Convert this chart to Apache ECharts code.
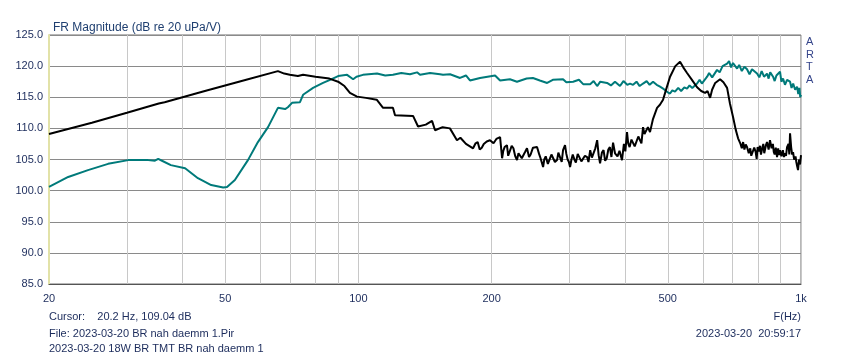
<!DOCTYPE html>
<html>
<head>
<meta charset="utf-8">
<script src="https://cdn.jsdelivr.net/npm/echarts@6/dist/echarts.min.js"></script>
<style>
html,body{margin:0;padding:0;background:#fff;}
#chart{width:850px;height:359px;}
</style>
</head>
<body>
<div id="chart"></div>
<script>
// ---- data ----
const xTickLabels = [20, 50, 100, 200, 500, 1000];
const xGridFreqs = [20, 30, 40, 50, 60, 70, 80, 90, 100, 200, 300, 400, 500, 600, 700, 800, 900, 1000];
const blackFreq = [20,25,30,35.4,36.5,45,55,65.8,68,70,73,75,80,86,90,93,95.7,99.3,104,110,113.7,119.7,121,132.9,136.4,142,146.7,149,155,161,167,170,175,181.6,184,186,188,190,192,195,198.3,202,205,209,211.2,212.5,214,216.6,218,220,222,224,226,228.2,230,232,234,236,238,240.4,243,245,248,250,253.3,256,258,261.4,263,265,268,270,273,275,278,281.1,283,285,288,290,293,295,297,299,300.8,303,305,308,310,313,316,319,322,325,328.7,331,334,337,340,343,346.3,349,351.6,355,358,361,364,367,370,373,376.2,380,385,389,394.1,396,398,401,404.5,407,410,414,417.4,421,425,429,432.8,436,439.7,443,447,451,455.9,463,472.9,480,487.9,497,506,520,533,542,552.8,567,582.4,595,607.2,615,623.2,629.7,640,656.4,668,680.8,691,702.4,712,720.9,730,735,740,745,750,755.2,762,768,772,779.2,784,790,794,798,803,808,812,815,819,822,826,830,834,838,845,851,858,864,868,872,877,882.8,888,892,896.7,903,910,915,920,925,930,937,941,944.6,950,955,959.5,965,972,976,979.7,984.7,990,995,1000];
const blackDb = [109.1,110.9,112.5,114.0,114.2,116.0,117.7,119.2,118.8,118.6,118.4,118.6,118.3,118.0,117.5,116.8,115.7,115.1,114.9,114.6,113.3,113.3,112.1,112.0,110.3,110.6,111.2,109.7,110.2,110.0,108.1,108.5,107.5,106.8,107.6,107.8,106.6,106.9,107.5,107.9,108.1,107.6,108.3,108.6,105.2,106.4,107.0,107.3,105.6,105.8,107.2,106.8,105.6,104.9,106.0,106.3,105.2,105.0,106.2,106.8,105.4,105.8,106.9,107.0,107.0,105.9,105.2,103.8,105.0,105.5,104.3,104.5,105.8,106.0,104.6,104.9,106.1,105.5,104.6,106.5,107.3,105.9,105.0,104.6,103.8,105.0,105.8,104.9,104.5,105.9,106.0,104.7,104.5,105.6,105.4,104.6,106.5,105.3,105.0,106.8,108.1,105.7,104.4,106.1,106.5,104.8,105.2,106.6,107.0,105.4,107.7,106.0,105.5,106.4,104.9,106.2,107.5,106.3,109.4,107.6,107.0,108.2,108.4,107.1,107.3,108.7,108.4,107.6,110.2,109.1,109.0,110.2,109.4,111.5,113.3,113.8,114.6,116.5,118.3,120.0,120.7,119.8,118.9,117.8,116.6,116.0,115.7,116.0,114.9,116.2,117.3,117.9,117.4,116.5,114.0,111.8,109.8,108.4,107.5,106.8,107.8,106.6,107.4,107.0,106.0,106.8,105.6,105.4,106.9,106.2,105.1,107.0,106.3,107.2,105.8,106.0,107.1,107.5,106.0,106.3,107.4,107.8,106.6,108.1,106.8,107.5,106.2,105.8,106.9,105.4,106.8,105.7,106.5,105.5,106.5,105.4,106.0,105.6,107.0,107.5,105.8,109.2,107.0,105.8,106.2,105.0,105.5,104.6,104.0,103.3,105.0,104.2,105.7];
const tealFreq = [20,22.1,24.5,27.2,30.2,33.5,34.7,35.3,36,37.7,40.6,43.4,46.5,49.5,50.5,52.6,56.3,59.3,62.5,65.8,68.3,69.3,70.8,73.8,75,79,83.2,86.3,90,94.3,97.3,99,102.4,110.2,115,119.7,125,130.8,135.7,137.8,145.2,152.9,155.3,161.1,169.7,175,178.7,188.3,203.6,209,220,228.2,240,248,257,267,275,290,295,305.6,315,322,333.9,340,346.3,352,364.6,372,380,390,397,405,410.9,417.4,425,432,439.7,448,455,463.2,472,480.3,490,500,506,512,519.3,528,536,545,552.8,560,568,582.4,590,597,613.6,620,630,646.2,655,665,680.8,688,695,702,717.2,725,735,745,755.2,765,775,795.6,805,815,825,838.1,845,852,864.8,872,880,896.7,903,910.8,920,930,944.6,952,960,970,979.7,986,992,996,1000];
const tealDb = [100.6,102.2,103.3,104.3,104.9,104.9,104.8,105.1,104.8,104.1,103.6,102.0,100.9,100.5,100.6,101.7,104.9,107.8,110.2,113.3,113.1,113.4,114.1,114.2,115.4,116.5,117.3,117.8,118.4,118.6,117.9,118.3,118.6,118.8,118.5,118.6,118.9,118.7,119.0,118.6,118.9,118.7,118.6,118.7,118.1,118.5,117.7,118.1,118.5,117.7,117.9,117.5,118.0,118.1,117.7,117.3,117.8,117.9,117.4,117.5,117.8,117.1,117.1,117.6,116.8,117.5,117.3,116.9,117.5,116.8,117.6,117.0,117.2,117.0,117.5,116.8,117.2,117.6,117.0,117.5,117.0,116.7,116.3,115.8,115.6,116.1,115.9,116.5,116.0,116.6,116.4,116.9,116.5,117.2,117.8,117.2,118.3,118.9,118.2,119.4,119.0,120.0,120.4,120.8,119.8,120.5,119.6,120.2,119.2,119.9,119.5,118.7,119.5,118.8,118.2,119.2,118.3,118.8,118.0,119.0,118.3,117.6,118.5,119.1,117.5,118.0,117.0,117.8,117.5,116.5,117.2,116.2,116.7,115.5,116.5,115.0,115.4];

const zip = (xs, ys) => xs.map((x, i) => [x, ys[i]]);
const txt = '#1c2c5c';
const font = 'Liberation Sans, Arial, sans-serif';

const chart = echarts.init(document.getElementById('chart'), null, {renderer: 'canvas'});
chart.setOption({
  animation: false,
  backgroundColor: '#ffffff',
  title: {
    text: 'FR Magnitude (dB re 20 uPa/V)',
    left: 48, top: 17,
    textStyle: {fontFamily: font, fontSize: 12, fontWeight: 'normal', color: '#1f3f70'}
  },
  grid: {left: 49, right: 49, top: 35, bottom: 75, show: true, borderColor: '#6e6e6e', borderWidth: 1},
  xAxis: {
    type: 'log', logBase: 10, min: 20, max: 1000,
    axisLine: {show: true, onZero: false, lineStyle: {color: '#555555', width: 1}},
    axisTick: {show: false, customValues: xGridFreqs},
    splitLine: {show: true, lineStyle: {color: '#c8c8c8', width: 1}},
    axisLabel: {
      customValues: xTickLabels,
      showMinLabel: true, showMaxLabel: true,
      margin: 9, fontFamily: font, fontSize: 11, color: txt,
      formatter: v => (v >= 1000 ? (v / 1000) + 'k' : String(Math.round(v)))
    }
  },
  yAxis: {
    type: 'value', min: 85, max: 125, interval: 5,
    axisLine: {show: true, lineStyle: {color: '#e2e2a8', width: 2}},
    axisTick: {show: false},
    splitLine: {show: true, lineStyle: {color: '#8a8a8a', width: 1}},
    axisLabel: {margin: 6, fontFamily: font, fontSize: 11, color: txt, formatter: v => v.toFixed(1)}
  },
  series: [
    {type: 'line', data: zip(tealFreq, tealDb), showSymbol: false, symbol: 'none',
     lineStyle: {color: '#007a7a', width: 2}, z: 3},
    {type: 'line', data: zip(blackFreq, blackDb), showSymbol: false, symbol: 'none',
     lineStyle: {color: '#000000', width: 2}, z: 4}
  ],
  graphic: [
    {type: 'text', left: 806, top: 36, style: {text: 'A\nR\nT\nA', fontFamily: font, fontSize: 11, lineHeight: 12.5, fill: '#34448a', align: 'center'}},
    {type: 'text', left: 49, top: 311, style: {text: 'Cursor:    20.2 Hz, 109.04 dB', fontFamily: font, fontSize: 11, fill: txt}},
    {type: 'text', left: 49, top: 328, style: {text: 'File: 2023-03-20 BR nah daemm 1.Pir', fontFamily: font, fontSize: 11, fill: txt}},
    {type: 'text', left: 49, top: 343, style: {text: '2023-03-20 18W BR TMT BR nah daemm 1', fontFamily: font, fontSize: 11, fill: txt}},
    {type: 'text', right: 49, top: 311, style: {text: 'F(Hz)', fontFamily: font, fontSize: 11, fill: txt}},
    {type: 'text', right: 49, top: 328, style: {text: '2023-03-20  20:59:17', fontFamily: font, fontSize: 11, fill: txt}}
  ]
});
</script>
</body>
</html>
